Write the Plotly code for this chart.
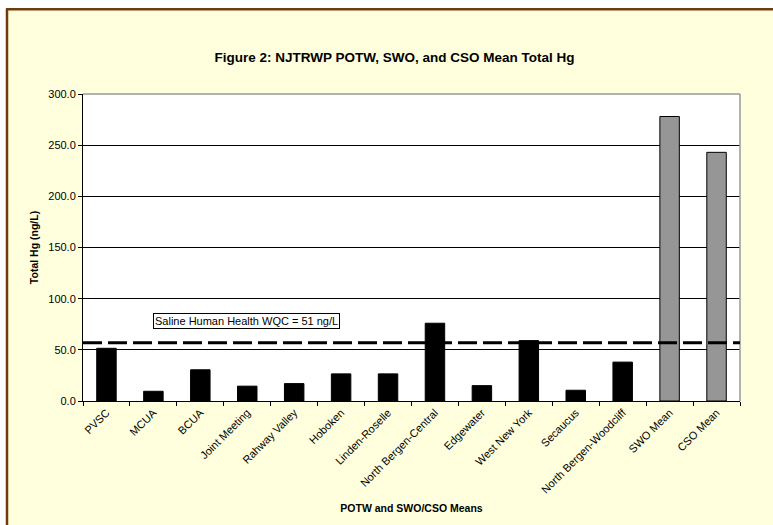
import plotly.graph_objects as go

# ---- data ----
categories = ["PVSC", "MCUA", "BCUA", "Joint Meeting", "Rahway Valley", "Hoboken",
              "Linden-Roselle", "North Bergen-Central", "Edgewater", "West New York",
              "Secaucus", "North Bergen-Woodcliff", "SWO Mean", "CSO Mean"]
values = [51.5, 9.5, 30.5, 14.5, 17.0, 26.5, 26.5, 76.0, 15.0, 59.0, 10.5, 38.0, 278.0, 243.0]
bar_groups = ["POTW"] * 12 + ["Mean"] * 2
wqc_line_value = 57.0
wqc_label = "Saline Human Health WQC = 51 ng/L"
y_ticks = [0, 50, 100, 150, 200, 250, 300]

# ---- styling ----
W, H = 773, 525
L, R, T, B = 83, 33, 94, 124
PW, PH = W - L - R, H - T - B
YELLOW = "#FFFFDE"
BROWN = "#6E3D0C"
FONT = "Liberation Sans, Arial, sans-serif"

def px_x(px):
    return (px - L) / PW

def px_y(py):
    return (H - B - py) / PH

colors = ["#000000" if g == "POTW" else "#969696" for g in bar_groups]

fig = go.Figure()
fig.add_trace(go.Bar(
    x=categories, y=values,
    marker=dict(color=colors, line=dict(color="#000000", width=1)),
    hoverinfo="x+y",
))

shapes = [
    # white outside the brown frame (left & top)
    dict(type="rect", xref="paper", yref="paper", x0=px_x(-60), x1=px_x(5.5),
         y0=px_y(700), y1=px_y(-60), fillcolor="white", line=dict(width=0), layer="below"),
    dict(type="rect", xref="paper", yref="paper", x0=px_x(-60), x1=px_x(900),
         y0=px_y(8), y1=px_y(-60), fillcolor="white", line=dict(width=0), layer="below"),
    # brown frame
    dict(type="line", xref="paper", yref="paper", x0=px_x(7), x1=px_x(7),
         y0=px_y(9), y1=px_y(700), line=dict(color=BROWN, width=2.5)),
    dict(type="line", xref="paper", yref="paper", x0=px_x(6), x1=px_x(900),
         y0=px_y(9.3), y1=px_y(9.3), line=dict(color=BROWN, width=2.5)),
    # plot area border (top/right gray)
    dict(type="line", xref="paper", yref="paper", x0=0, x1=1, y0=1, y1=1,
         line=dict(color="#9A9A9A", width=1.5), layer="above"),
    dict(type="line", xref="paper", yref="paper", x0=1, x1=1, y0=0, y1=1,
         line=dict(color="#9A9A9A", width=1.5), layer="above"),
    # WQC dashed line
    dict(type="line", xref="paper", yref="y", x0=0, x1=1, y0=wqc_line_value, y1=wqc_line_value,
         line=dict(color="#000000", width=3, dash="19px,6px"), layer="above"),
]

fig.update_layout(
    width=W, height=H,
    margin=dict(l=L, r=R, t=T, b=B, autoexpand=False),
    paper_bgcolor=YELLOW, plot_bgcolor="white",
    font=dict(family=FONT, size=11, color="#000000"),
    showlegend=False,
    bargap=0.585,
    title=dict(text="<b>Figure 2: NJTRWP POTW, SWO, and CSO Mean Total Hg</b>",
               x=394.5 / W, xanchor="center", y=1 - 57 / H, yanchor="middle",
               yref="container", font=dict(size=13.5, family=FONT, color="#000000")),
    xaxis=dict(
        type="category", tickangle=-45, showgrid=False,
        showline=True, linecolor="#000000", linewidth=1,
        ticks="outside", ticklen=4, tickcolor="#000000", tickson="boundaries",
        tickfont=dict(size=11, family=FONT, color="#000000"),
        title=dict(text="<b>POTW and SWO/CSO Means</b>", standoff=10,
                   font=dict(size=10.5, family=FONT, color="#000000")),
        automargin=False,
    ),
    yaxis=dict(
        range=[0, 300], tickvals=y_ticks, tickformat=".1f",
        showgrid=True, gridcolor="#000000", gridwidth=1,
        showline=True, linecolor="#000000", linewidth=1,
        ticks="outside", ticklen=4, tickcolor="#000000",
        tickfont=dict(size=11, family=FONT, color="#000000"),
        zeroline=False,
        title=dict(text="<b>Total Hg (ng/L)</b>", standoff=7,
                   font=dict(size=10.5, family=FONT, color="#000000")),
        automargin=False,
    ),
    annotations=[dict(
        text=wqc_label, xref="paper", yref="paper",
        x=px_x(246.5), y=px_y(320.7), xanchor="center", yanchor="middle",
        showarrow=False, bgcolor="white", bordercolor="#000000", borderwidth=1,
        borderpad=1, font=dict(size=11, family=FONT, color="#000000"),
    )],
    shapes=shapes,
)

fig.write_html(
    "out.html",
    config={"displayModeBar": False},
    post_script="document.body.style.margin='0px';document.body.style.overflow='hidden';",
)
